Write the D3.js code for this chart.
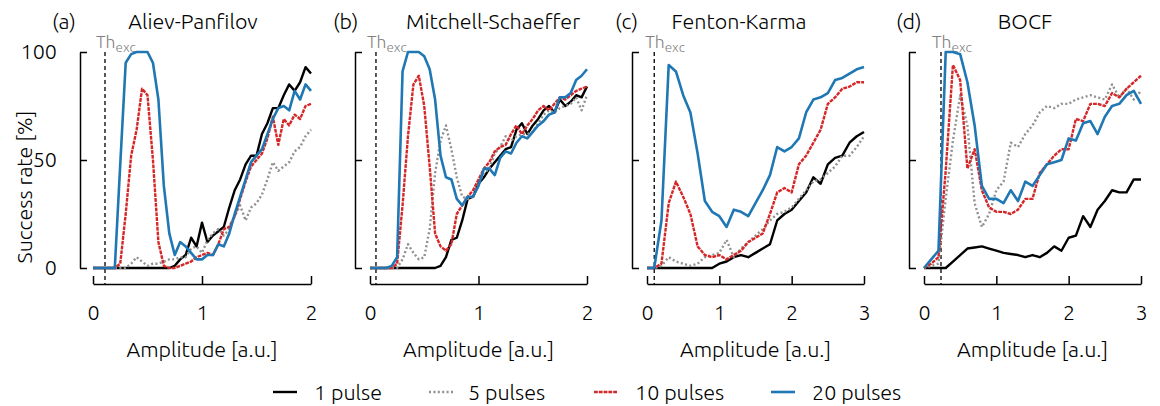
<!DOCTYPE html>
<html>
<head>
<meta charset="utf-8">
<script src="https://cdn.jsdelivr.net/npm/d3@7"></script>
<style>
    body { margin: 0; background: #fff; }
    text { font-family: Ubuntu, "Open Sans", sans-serif; font-weight: 300; fill: #000; }
</style>
</head>
<body>
<div id="chart"></div>
<script>
// amplitude grids
const ampFine = [0, 0.05, 0.1, 0.15, 0.2, 0.25, 0.3, 0.35, 0.4, 0.45, 0.5, 0.55, 0.6, 0.65, 0.7, 0.75, 0.8, 0.85, 0.9, 0.95,
    1, 1.05, 1.1, 1.15, 1.2, 1.25, 1.3, 1.35, 1.4, 1.45, 1.5, 1.55, 1.6, 1.65, 1.7, 1.75, 1.8, 1.85, 1.9, 1.95, 2];
const ampCoarse = [0, 0.1, 0.2, 0.3, 0.4, 0.5, 0.6, 0.7, 0.8, 0.9, 1, 1.1, 1.2, 1.3, 1.4, 1.5, 1.6, 1.7, 1.8, 1.9,
    2, 2.1, 2.2, 2.3, 2.4, 2.5, 2.6, 2.7, 2.8, 2.9, 3];

const models = ["Aliev-Panfilov", "Mitchell-Schaeffer", "Fenton-Karma", "BOCF"];
const panelLabels = ["(a)", "(b)", "(c)", "(d)"];
const ampMax = [2, 2, 3, 3];
const thresholds = [0.11, 0.055, 0.1, 0.235];
const pulseKeys = ["1 pulse", "5 pulses", "10 pulses", "20 pulses"];
const yTicks = [0, 50, 100];

// success rate [%] per model and pulse count
const apOne = [0,0,0,0,0, 0,0,0,0,0, 0,0,0,0,0, 1,4,6,14,10, 21,12,15,17,19, 28,36,41,48,52, 52,62,67,74,74, 80,85,82,86,93, 90];
const apFive = [0,0,0,0,0, 0,0,2,5,3, 1,2,2,3,4, 4,5,5,9,10, 7,13,16,18,15, 18,24,29,22,28, 30,34,41,49,45, 47,49,54,56,61, 64];
const apTen = [0,0,0,0,0, 2,25,52,64,83, 80,50,12,1,0, 0,1,2,3,5, 6,7,6,11,18, 19,24,32,40,47, 50,53,60,70,57, 69,66,71,69,75, 76];
const apTwenty = [0,0,0,0,0, 48,95,99,100,100, 100,95,78,38,16, 6,12,10,7,4, 4,6,6,11,10, 16,25,33,41,49, 52,55,62,69,74, 75,73,82,78,85, 82];

const msOne = [0,0,0,0,0, 0,0,0,0,0, 0,0,0,1,5, 13,14,22,32,33, 39,42,46,49,52, 55,56,64,67,62, 66,69,73,75,72, 78,75,77,80,79, 84];
const msFive = [0,0,0,0,0, 0,4,11,7,4, 5,18,44,59,66, 55,42,33,32,33, 39,44,46,53,56, 61,59,61,62,62, 63,67,71,73,72, 74,75,76,79,73, 80];
const msTen = [0,0,0,0,0, 2,29,61,85,89, 75,47,16,10,8, 11,25,29,33,36, 41,46,49,54,56, 57,62,66,62,66, 69,73,75,73,76, 79,78,80,82,83, 84];
const msTwenty = [0,0,0,0,1, 5,91,100,100,100, 98,92,78,52,42, 41,32,29,33,33, 38,46,46,43,51, 54,53,58,61,60, 63,66,68,71,72, 79,79,81,87,89, 92];

const fkOne = [0,0,0,0,0, 0,0,0,0,0, 2,3,5,6,5, 7,9,11,22,25, 27,31,35,42,39, 48,51,52,58,61, 63];
const fkFive = [0,0,1,5,3, 2,1,2,5,6, 7,13,5,9,12, 15,18,22,25,26, 28,32,36,40,41, 44,47,52,52,56, 61];
const fkTen = [0,0,2,30,40, 33,25,10,6,5, 6,4,6,8,12, 14,16,25,35,37, 35,48,52,58,64, 76,79,83,84,86, 86];
const fkTwenty = [0,0,22,94,91, 80,72,53,31,26, 24,19,27,26,24, 30,36,43,56,54, 56,60,72,78,79, 81,87,88,90,92, 93];

const bocfOne = [0,0,0,0,3, 6,9,9.5,10,9, 8,7,6.5,6,5, 6,5,7,10,8, 14,15,24,19,27, 31,36,35,35,41, 41];
const bocfFive = [0,1,2,32,59, 80,66,30,19,25, 36,40,58,56,62, 66,72,75,74,76, 76,78,79,80,79, 78,85,79,83,78, 82];
const bocfTen = [0,2,5,45,94, 87,46,55,36,28, 26,26,25,27,32, 32,44,48,52,55, 55,69,68,76,76, 75,81,79,83,86, 89];
const bocfTwenty = [0,4,8,100,100, 99,86,66,38,32, 32,30,36,31,40, 38,43,48,49,50, 60,59,67,68,62, 70,75,76,80,82, 76];

const amplitudes = [ampFine, ampFine, ampCoarse, ampCoarse];
const series = [
    [apOne, apFive, apTen, apTwenty],
    [msOne, msFive, msTen, msTwenty],
    [fkOne, fkFive, fkTen, fkTwenty],
    [bocfOne, bocfFive, bocfTen, bocfTwenty]
];

// styles per pulse count
const lineStyles = {
    "1 pulse": {color: "#000000", dash: "none", width: 2.4},
    "5 pulses": {color: "#909090", dash: "2 2.4", width: 2.4},
    "10 pulses": {color: "#d62728", dash: "3.8 1", width: 2.4},
    "20 pulses": {color: "#1f77b4", dash: "none", width: 2.6}
};

// pixel layout of each panel
const layout = [
    {spine: 80, x0: 93, x1: 311, title: 193, label: 52},
    {spine: 355, x0: 370, x1: 587, title: 493, label: 333},
    {spine: 632, x0: 647, x1: 864, title: 739, label: 615},
    {spine: 909, x0: 924, x1: 1141, title: 1025, label: 896}
];

const fontSize = "21.5px";

function PanelVis(svg, index) {
    let vis = this;

    vis.svg = svg;
    vis.index = index;
    vis.L = layout[index];

    vis.top = 52;
    vis.bottom = 268;
    vis.xAxisY = 284;

    vis.initVis();
}

PanelVis.prototype.initVis = function() {
    let vis = this;
    let L = vis.L;

    vis.g = vis.svg.append("g").attr("class", "panel");

    vis.x = d3.scaleLinear()
        .domain([0, ampMax[vis.index]])
        .range([L.x0, L.x1]);
    vis.y = d3.scaleLinear()
        .domain([0, 100])
        .range([vis.bottom, vis.top]);

    // y axis: bracket style, ticks pointing inward
    let yAxis = d3.axisLeft(vis.y)
        .tickValues(yTicks)
        .tickSizeInner(-7)
        .tickSizeOuter(0)
        .tickPadding(23)
        .tickFormat(vis.index === 0 ? d3.format("d") : "");

    vis.g.append("g")
        .attr("class", "axis y-axis")
        .attr("transform", "translate(" + L.spine + ",0)")
        .call(yAxis);

    let xAxis = d3.axisBottom(vis.x)
        .ticks(ampMax[vis.index])
        .tickSizeInner(-8)
        .tickSizeOuter(0)
        .tickPadding(21)
        .tickFormat(d3.format("d"));

    vis.g.append("g")
        .attr("class", "axis x-axis")
        .attr("transform", "translate(0," + vis.xAxisY + ")")
        .call(xAxis);

    vis.g.selectAll(".axis path, .axis line")
        .style("stroke", "#000")
        .style("stroke-width", 1.5);
    vis.g.selectAll(".axis text")
        .style("font-size", fontSize)
        .style("font-weight", 300)
        .style("fill", "#000");

    vis.g.append("text")
        .attr("class", "x-label")
        .attr("text-anchor", "middle")
        .attr("x", (L.x0 + L.x1) / 2)
        .attr("y", 357)
        .style("font-size", fontSize)
        .text("Amplitude [a.u.]");

    if (vis.index === 0) {
        vis.g.append("text")
            .attr("class", "y-label")
            .attr("text-anchor", "middle")
            .attr("transform", "translate(32,187) rotate(-90)")
            .style("font-size", fontSize)
            .text("Success rate [%]");
    }

    vis.g.append("text")
        .attr("x", L.label)
        .attr("y", 29)
        .style("font-size", fontSize)
        .text(panelLabels[vis.index]);

    vis.g.append("text")
        .attr("text-anchor", "middle")
        .attr("x", L.title)
        .attr("y", 29)
        .style("font-size", fontSize)
        .text(models[vis.index]);

    // excitation threshold
    let th = vis.x(thresholds[vis.index]);
    vis.g.append("line")
        .attr("x1", th)
        .attr("x2", th)
        .attr("y1", vis.top)
        .attr("y2", vis.xAxisY)
        .style("stroke", "#000")
        .style("stroke-width", 1.3)
        .style("stroke-dasharray", "4 3");

    let thLabel = vis.g.append("text")
        .attr("x", th - 9)
        .attr("y", 48)
        .style("font-size", "17.5px")
        .style("fill", "#808080");
    thLabel.append("tspan").text("Th");
    thLabel.append("tspan")
        .attr("dy", 4)
        .style("font-size", "13.5px")
        .text("exc");

    vis.updateVis();
};

PanelVis.prototype.updateVis = function() {
    let vis = this;
    let amps = amplitudes[vis.index];

    let line = d3.line()
        .x((d, i) => vis.x(amps[i]))
        .y(d => vis.y(d));

    vis.g.selectAll("path.rate-line")
        .data(series[vis.index])
        .enter()
        .append("path")
        .attr("class", "rate-line")
        .attr("d", d => line(d))
        .style("fill", "none")
        .style("stroke", (d, i) => lineStyles[pulseKeys[i]].color)
        .style("stroke-width", (d, i) => lineStyles[pulseKeys[i]].width)
        .style("stroke-dasharray", (d, i) => lineStyles[pulseKeys[i]].dash)
        .style("stroke-linejoin", "round");
};

let svg = d3.select("#chart").append("svg")
    .attr("width", 1160)
    .attr("height", 406);

let panels = models.map((m, i) => new PanelVis(svg, i));

// legend
let legendX = [273, 429, 594, 771];
let legend = svg.append("g").attr("class", "legend");
let items = legend.selectAll("g.item")
    .data(pulseKeys)
    .enter()
    .append("g")
    .attr("class", "item")
    .attr("transform", (d, i) => "translate(" + legendX[i] + ",392)");

items.append("line")
    .attr("x1", 0)
    .attr("x2", 24)
    .style("stroke", d => lineStyles[d].color)
    .style("stroke-width", d => lineStyles[d].width)
    .style("stroke-dasharray", d => lineStyles[d].dash);

items.append("text")
    .attr("x", (d, i) => i === 1 ? 39 : 41)
    .attr("dy", "0.35em")
    .style("font-size", fontSize)
    .text(d => d);
</script>
</body>
</html>
